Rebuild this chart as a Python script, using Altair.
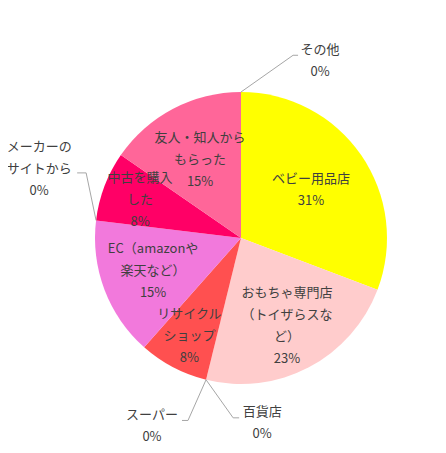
import math
import altair as alt
import pandas as pd

# ---- data ----
categories = ["ベビー用品店", "おもちゃ専門店（トイザらスなど）", "百貨店", "スーパー",
              "リサイクルショップ", "EC（amazonや楽天など）", "メーカーのサイトから",
              "中古を購入した", "友人・知人からもらった", "その他"]
label_lines = [["ベビー用品店"], ["おもちゃ専門店", "（トイザらスな", "ど）"], ["百貨店"], ["スーパー"],
               ["リサイクル", "ショップ"], ["EC（amazonや", "楽天など）"], ["メーカーの", "サイトから"],
               ["中古を購入", "した"], ["友人・知人から", "もらった"], ["その他"]]
counts = [4, 3, 0, 0, 1, 2, 0, 1, 2, 0]

# ---- style / layout ----
colors = ["#FFFF00", "#FFCCCC", "#A5A5A5", "#A5A5A5", "#FF5050",
          "#F279DC", "#A5A5A5", "#FF0066", "#FF6699", "#A5A5A5"]
W, H = 430, 437
CX, CY = 233, 230
R = 146
FONT = "Noto Sans CJK JP"
FS = 13
LH = 22
TXT = "#404040"
LINE = "#A6A6A6"
inside_radius = {"ベビー用品店": 85, "おもちゃ専門店（トイザらスなど）": 99, "リサイクルショップ": 111,
                 "EC（amazonや楽天など）": 94, "中古を購入した": 108, "友人・知人からもらった": 88}
# leader: elbow radius, elbow angle (deg), tail dx, label dx, label dy (block centre from tail end, up positive)
leaders = {"その他": (190, 15.9, 5, 22, -6),
           "メーカーのサイトから": (168, 292.8, -9, -38, 4),
           "スーパー": (190, 196.2, -6, -30, -6),
           "百貨店": (180, 182.5, 6, 23, -5)}

total = sum(counts)
rows = []
cum = 0
for c, lines, n in zip(categories, label_lines, counts):
    s = cum / total * 2 * math.pi
    cum += n
    e = cum / total * 2 * math.pi
    pct = round(n / total * 100)
    txt = lines + [f"{pct}%"]
    rows.append({"cat": c, "start": s, "end": e, "mid": (s + e) / 2, "n": n,
                 "label": "\n".join(txt), "nl": len(txt)})
df = pd.DataFrame(rows)

text_rows = []
for _, r in df[df["n"] > 0].iterrows():
    lr = inside_radius[r["cat"]]
    text_rows.append({"cat": r["cat"], "label": r["label"],
                      "x": lr * math.sin(r["mid"]),
                      "y": lr * math.cos(r["mid"]) + (r["nl"] - 1) * LH / 2})

line_rows = []
for _, r in df[df["n"] == 0].iterrows():
    er, ea, tdx, ldx, ldy = leaders[r["cat"]]
    a0 = r["start"]
    p0 = (R * math.sin(a0), R * math.cos(a0))
    a1 = math.radians(ea)
    p1 = (er * math.sin(a1), er * math.cos(a1))
    p2 = (p1[0] + tdx, p1[1])
    for i, p in enumerate([p0, p1, p2]):
        line_rows.append({"cat": r["cat"], "o": i, "x": p[0], "y": p[1]})
    text_rows.append({"cat": r["cat"], "label": r["label"],
                      "x": p2[0] + ldx, "y": p2[1] + ldy + (r["nl"] - 1) * LH / 2})
df_line = pd.DataFrame(line_rows)
df_text = pd.DataFrame(text_rows)

xs = alt.Scale(domain=[-CX, W - CX], nice=False, zero=False)
ys = alt.Scale(domain=[-(H - CY), CY], nice=False, zero=False)

arcs = alt.Chart(df).mark_arc(radius=R).encode(
    theta=alt.Theta("start:Q", scale=None, stack=False),
    theta2="end:Q",
    color=alt.Color("cat:N", scale=alt.Scale(domain=categories, range=colors), legend=None),
    x=alt.value(CX), y=alt.value(CY),
)

leader_lines = alt.Chart(df_line).mark_line(color=LINE, strokeWidth=1).encode(
    x=alt.X("x:Q", scale=xs, axis=None),
    y=alt.Y("y:Q", scale=ys, axis=None),
    detail="cat:N",
    order="o:O",
)

labels = alt.Chart(df_text).mark_text(
    lineBreak="\n", align="center", baseline="middle", font=FONT, fontSize=FS,
    lineHeight=LH, color=TXT,
).encode(
    x=alt.X("x:Q", scale=xs, axis=None),
    y=alt.Y("y:Q", scale=ys, axis=None),
    text="label:N",
)

chart = alt.layer(arcs, leader_lines, labels).properties(
    width=W, height=H, padding=0, autosize="none"
).configure_view(strokeWidth=0)

chart.save("out.html", embed_options={"renderer": "svg", "actions": False})
